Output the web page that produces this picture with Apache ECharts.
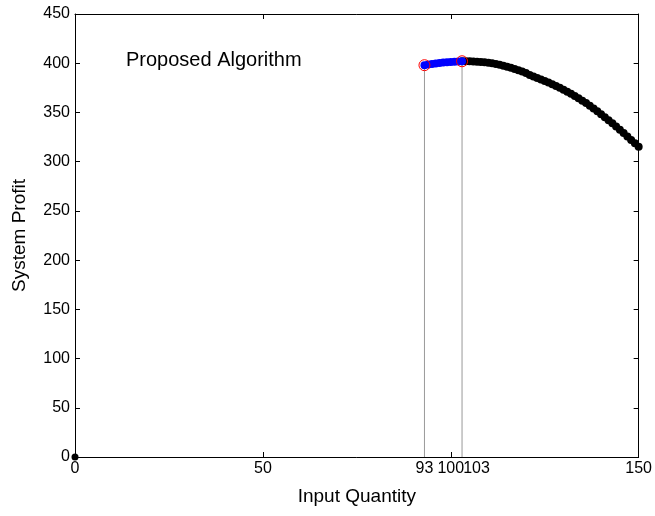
<!DOCTYPE html>
<html>
<head>
<meta charset="utf-8">
<script src="https://cdn.jsdelivr.net/npm/echarts@6/dist/echarts.min.js"></script>
<style>
  html, body { margin: 0; padding: 0; background: #fff; }
  #chart { width: 655px; height: 516px; }
</style>
</head>
<body>
<div id="chart"></div>
<script>
// x 值 (输入量)
var riseX = [93, 94, 95, 96, 97, 98, 99, 100, 101, 102, 103];
var riseY = [398.0, 398.7, 399.3, 399.8, 400.3, 400.7, 401.0, 401.3, 401.6, 401.8, 402.0];

var fallX = [103, 104, 105, 106, 107, 108, 109, 110, 111, 112, 113, 114, 115, 116, 117, 118, 119, 120,
  121, 122, 123, 124, 125, 126, 127, 128, 129, 130, 131, 132, 133, 134, 135, 136, 137, 138, 139, 140,
  141, 142, 143, 144, 145, 146, 147, 148, 149, 150];
var fallY = [402.0, 402.0, 401.9, 401.8, 401.6, 401.3, 400.9, 400.5, 399.9, 399.2, 398.4, 397.5, 396.5,
  395.4, 394.2, 392.9, 391.5, 390.0, 388.0, 386.6, 385.1, 383.5, 381.9, 380.3, 378.6, 376.8, 375.0,
  373.0, 371.0, 368.9, 366.7, 364.4, 362.0, 359.5, 356.9, 354.1, 351.1, 348.2, 345.2, 342.1, 338.9,
  335.6, 332.3, 329.0, 325.6, 322.1, 318.6, 315.1];

// 红圈标记的两个点
var markX = [93, 103];
var markY = [398.0, 402.0];

var originPt = [0, 0];

var xLabelVals = [0, 50, 93, 100, 103, 150];
var xTickVals = [0, 50, 100, 150];

function pairs(xs, ys) {
  return xs.map(function (x, i) { return [x, ys[i]]; });
}

var font = 'Liberation Sans, Arial, Helvetica, sans-serif';
var tick = { inside: true, length: 5, lineStyle: { color: '#000' } };
var line = { show: true, onZero: false, lineStyle: { color: '#000', width: 1 } };

var option = {
  animation: false,
  backgroundColor: '#fff',
  grid: { left: 75, right: 14, top: 14, bottom: 59 },
  graphic: [{
    type: 'text',
    left: 126,
    top: 50,
    style: { text: 'Proposed Algorithm', font: '20px ' + font, fill: '#000' }
  }],
  xAxis: [{
    type: 'value', min: 0, max: 150, position: 'bottom',
    name: 'Input Quantity', nameLocation: 'middle', nameGap: 30,
    nameTextStyle: { fontFamily: font, fontSize: 19, color: '#000' },
    axisLine: line,
    axisTick: Object.assign({ customValues: xTickVals }, tick),
    axisLabel: {
      customValues: xLabelVals, fontFamily: font, fontSize: 16, color: '#000', margin: 4,
      formatter: function (v) { return v === 103 ? '{r|103}' : String(v); },
      rich: { r: { fontFamily: font, fontSize: 16, color: '#000', padding: [0, 0, 0, 29] } }
    },
    splitLine: { show: false }
  }, {
    type: 'value', min: 0, max: 150, position: 'top',
    axisLine: line,
    axisTick: Object.assign({ customValues: xTickVals }, tick),
    axisLabel: { show: false },
    splitLine: { show: false }
  }],
  yAxis: [{
    type: 'value', min: 0, max: 450, interval: 50, position: 'left',
    name: 'System Profit', nameLocation: 'middle', nameGap: 46,
    nameTextStyle: { fontFamily: font, fontSize: 19, color: '#000' },
    axisLine: line,
    axisTick: tick,
    axisLabel: { fontFamily: font, fontSize: 16, color: '#000', margin: 5 },
    splitLine: { show: false }
  }, {
    type: 'value', min: 0, max: 450, interval: 50, position: 'right',
    axisLine: line,
    axisTick: tick,
    axisLabel: { show: false },
    splitLine: { show: false }
  }],
  series: [
    {
      type: 'line', data: [[markX[0], 0], [markX[0], markY[0]]],
      symbol: 'none', lineStyle: { color: '#999', width: 1 }, z: 1
    },
    {
      type: 'line', data: [[markX[1], 0], [markX[1], markY[1]]],
      symbol: 'none', lineStyle: { color: '#999', width: 1 }, z: 1
    },
    {
      type: 'scatter', data: pairs(fallX, fallY),
      symbol: 'circle', symbolSize: 8,
      itemStyle: { color: '#000', opacity: 1 }, z: 2
    },
    {
      type: 'scatter', data: pairs(riseX, riseY),
      symbol: 'circle', symbolSize: 8,
      itemStyle: { color: '#0000ff', opacity: 1 }, z: 3
    },
    {
      type: 'scatter', data: [originPt],
      symbol: 'circle', symbolSize: 7,
      itemStyle: { color: '#000', opacity: 1 }, z: 3
    },
    {
      type: 'scatter', data: pairs(markX, markY),
      symbol: 'circle', symbolSize: 11,
      itemStyle: { color: 'none', borderColor: '#ff0000', borderWidth: 1, opacity: 1 }, z: 4
    }
  ]
};

var myChart = echarts.init(document.getElementById('chart'));
myChart.setOption(option);
</script>
</body>
</html>
